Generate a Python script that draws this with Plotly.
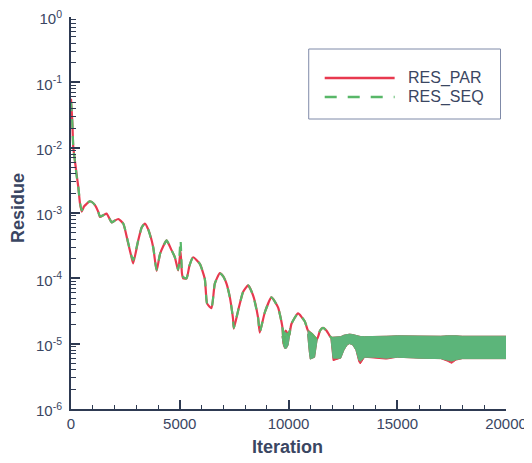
import plotly.graph_objects as go

# ---------------- data ----------------
iters = [0, 60, 106, 180, 262, 335, 413, 491, 600, 721, 850, 950, 1102, 1250, 1332,
         1500, 1639, 1869, 2000, 2172, 2402, 2631, 2800, 2861, 3090, 3250, 3398, 3550,
         3779, 3935, 4100, 4395, 4600, 4776, 4927, 5037, 5100, 5157, 5313, 5450, 5616,
         5923, 6153, 6259, 6461, 6612, 6842, 7000, 7150, 7300, 7379, 7450, 7485, 7683,
         7912, 8142, 8371, 8601, 8679, 8909, 9216, 9519, 9721, 9781, 9873, 10024, 10134,
         10440, 10745, 10898, 11100, 11310, 11450, 11587, 11750, 11893, 12000]

res_par = [5.6e-2, 2.5e-2, 1.0e-2, 6.3e-3, 3.8e-3, 2.5e-3, 1.4e-3, 1.05e-3, 1.26e-3, 1.38e-3,
           1.51e-3, 1.48e-3, 1.32e-3, 1.05e-3, 8.7e-4, 9.3e-4, 9.8e-4, 7.2e-4, 7.6e-4, 8.1e-4,
           6.9e-4, 3.4e-4, 2.0e-4, 1.7e-4, 3.8e-4, 6.0e-4, 6.9e-4, 5.6e-4, 3.0e-4, 1.3e-4,
           2.4e-4, 3.8e-4, 2.8e-4, 2.1e-4, 1.32e-4, 2.6e-4, 1.2e-4, 1.0e-4, 1.0e-4, 1.58e-4,
           2.1e-4, 1.66e-4, 9.8e-5, 4.1e-5, 3.5e-5, 8.3e-5, 1.2e-4, 1.07e-4, 8.3e-5, 5.2e-5,
           3.6e-5, 2.4e-5, 1.7e-5, 3.2e-5, 6.2e-5, 7.8e-5, 5.5e-5, 2.5e-5, 1.48e-5, 3.0e-5,
           5.1e-5, 3.6e-5, 1.78e-5, 9.3e-6, 1.58e-5, 1.32e-5, 2.0e-5, 2.9e-5, 2.2e-5, 1.58e-5,
           1.38e-5, 1.17e-5, 1.58e-5, 1.74e-5, 1.58e-5, 1.32e-5, 1.2e-5]

res_seq = [5.0e-2, 2.4e-2, 1.0e-2, 6.3e-3, 3.6e-3, 2.5e-3, 1.45e-3, 1.1e-3, 1.26e-3, 1.38e-3,
           1.51e-3, 1.48e-3, 1.32e-3, 1.05e-3, 8.9e-4, 9.3e-4, 9.8e-4, 7.2e-4, 7.6e-4, 8.1e-4,
           6.9e-4, 3.5e-4, 2.1e-4, 1.9e-4, 3.8e-4, 6.0e-4, 6.9e-4, 5.6e-4, 3.0e-4, 1.35e-4,
           2.4e-4, 3.8e-4, 2.8e-4, 2.1e-4, 1.35e-4, 3.8e-4, 1.3e-4, 1.05e-4, 1.0e-4, 1.58e-4,
           2.1e-4, 1.66e-4, 9.8e-5, 4.1e-5, 3.6e-5, 8.3e-5, 1.2e-4, 1.07e-4, 8.3e-5, 5.2e-5,
           3.6e-5, 2.4e-5, 1.75e-5, 3.2e-5, 6.2e-5, 7.8e-5, 5.5e-5, 2.5e-5, 1.5e-5, 3.0e-5,
           5.1e-5, 3.6e-5, 1.78e-5, 9.6e-6, 1.58e-5, 1.32e-5, 2.0e-5, 2.9e-5, 2.2e-5, 1.58e-5,
           1.38e-5, 1.17e-5, 1.58e-5, 1.74e-5, 1.58e-5, 1.32e-5, 1.2e-5]

# oscillating (dense) regions: upper / lower envelopes
band1_iters = [9700, 9760, 9820, 9900, 9980, 10060]
band1_upper = [1.8e-5, 1.6e-5, 1.5e-5, 1.45e-5, 1.4e-5, 1.7e-5]
band1_lower = [1.3e-5, 1.0e-5, 8.5e-6, 8.5e-6, 9.5e-6, 1.4e-5]

band2_iters = [10880, 10950, 11000, 11100, 11200, 11280, 11320]
band2_upper = [1.6e-5, 1.5e-5, 1.48e-5, 1.38e-5, 1.3e-5, 1.2e-5, 1.17e-5]
band2_lower = [1.4e-5, 7.8e-6, 5.8e-6, 6.0e-6, 6.2e-6, 8.7e-6, 1.17e-5]

band3_iters = [11950, 12050, 12400, 12550, 12700, 12810, 12950, 13100, 13230, 13300, 13500,
               14000, 14500, 15000, 16000, 17000, 17300, 17500, 17700, 18000, 19000, 20000]
band3_upper = [1.25e-5, 1.26e-5, 1.28e-5, 1.35e-5, 1.4e-5, 1.4e-5, 1.38e-5, 1.33e-5, 1.3e-5,
               1.29e-5, 1.28e-5, 1.28e-5, 1.3e-5, 1.32e-5, 1.3e-5, 1.3e-5, 1.32e-5, 1.33e-5,
               1.32e-5, 1.3e-5, 1.3e-5, 1.3e-5]
band3_lower_seq = [1.2e-5, 6.0e-6, 6.0e-6, 8.0e-6, 9.6e-6, 1.0e-5, 9.6e-6, 8.0e-6, 5.6e-6,
                   5.4e-6, 6.2e-6, 6.2e-6, 6.0e-6, 6.2e-6, 6.0e-6, 5.9e-6, 5.6e-6, 5.4e-6,
                   5.7e-6, 5.9e-6, 5.9e-6, 5.9e-6]
band3_lower_par = [1.2e-5, 5.5e-6, 6.0e-6, 8.0e-6, 9.6e-6, 1.0e-5, 9.6e-6, 8.0e-6, 5.3e-6,
                   4.9e-6, 6.2e-6, 6.0e-6, 5.8e-6, 6.2e-6, 6.0e-6, 5.9e-6, 5.4e-6, 5.0e-6,
                   5.6e-6, 5.9e-6, 5.9e-6, 5.9e-6]

x_tickvals = [0, 5000, 10000, 15000, 20000]
x_ticktext = ["0", "5000", "10000", "15000", "20000"]
y_tickvals = [1e0, 1e-1, 1e-2, 1e-3, 1e-4, 1e-5, 1e-6]
y_ticktext = ["10<sup>0</sup>", "10<sup>-1</sup>", "10<sup>-2</sup>", "10<sup>-3</sup>",
              "10<sup>-4</sup>", "10<sup>-5</sup>", "10<sup>-6</sup>"]
series_names = ["RES_PAR", "RES_SEQ"]

# ---------------- styling ----------------
RED = "#e8394f"
GREEN = "#58b768"
FILL_GREEN = "#5cb57a"
AXIS = "#2e3a52"
TEXT = "#3a4662"
FONT = "Liberation Sans, Arial, sans-serif"


def polygon(xs, upper, lower):
    return xs + xs[::-1], upper + lower[::-1]


fig = go.Figure()

# RES_PAR (solid red)
fig.add_trace(go.Scatter(x=iters, y=res_par, mode="lines", name=series_names[0],
                         line=dict(color=RED, width=2.2, shape="spline", smoothing=0.5),
                         showlegend=False))
for xs, up, lo in [(band1_iters, band1_upper, band1_lower),
                   (band2_iters, band2_upper, band2_lower),
                   (band3_iters, band3_upper, band3_lower_par)]:
    px, py = polygon(xs, up, lo)
    fig.add_trace(go.Scatter(x=px, y=py, mode="lines", fill="toself", fillcolor=RED,
                             line=dict(color=RED, width=1), showlegend=False,
                             hoverinfo="skip"))

# RES_SEQ (dashed green)
for xs, up, lo in [(band1_iters, band1_upper, band1_lower),
                   (band2_iters, band2_upper, band2_lower),
                   (band3_iters, band3_upper, band3_lower_seq)]:
    px, py = polygon(xs, up, lo)
    fig.add_trace(go.Scatter(x=px, y=py, mode="lines", fill="toself", fillcolor=FILL_GREEN,
                             line=dict(color=FILL_GREEN, width=1), showlegend=False,
                             hoverinfo="skip"))
fig.add_trace(go.Scatter(x=iters, y=res_seq, mode="lines", name=series_names[1],
                         line=dict(color=GREEN, width=2.2, dash="9px,8px",
                                   shape="spline", smoothing=0.5),
                         showlegend=False))

# ---------------- axes ----------------
minor_y = [k * 10.0 ** e for e in range(-6, 0) for k in range(2, 10)]

fig.update_xaxes(range=[0, 20000], tickvals=x_tickvals, ticktext=x_ticktext,
                 ticks="inside", ticklen=9,
                 tickwidth=2, tickcolor=AXIS, showline=True, linecolor=AXIS, linewidth=2,
                 showgrid=False, zeroline=False, automargin=False,
                 ticklabeloverflow="allow",
                 tickfont=dict(family=FONT, size=15, color=TEXT),
                 minor=dict(dtick=1000, ticks="inside", ticklen=4, tickcolor=AXIS,
                            tickwidth=1, showgrid=False))
fig.update_yaxes(type="log", range=[-6, 0], tickvals=y_tickvals, ticktext=y_ticktext,
                 ticks="inside", ticklen=9, tickwidth=2, tickcolor=AXIS, showline=True,
                 linecolor=AXIS, linewidth=2, showgrid=False, zeroline=False,
                 ticklabelstandoff=4, ticklabelshift=2, automargin=False,
                 ticklabeloverflow="allow",
                 tickfont=dict(family=FONT, size=15, color=TEXT),
                 minor=dict(tickvals=minor_y, ticks="inside", ticklen=5, tickcolor=AXIS,
                            tickwidth=1, showgrid=False))

# ---------------- legend box (drawn) ----------------
# page pixel -> paper coordinates (plot area spans x 71..506, y 17..409 on the page)
def xp(px):
    return (px - 71) / 435.5


def yp(py):
    return (409 - py) / 392.0


shapes = [
    dict(type="rect", xref="paper", yref="paper", x0=xp(309), x1=xp(501), y0=yp(119),
         y1=yp(49), line=dict(color="#7f8aa8", width=1), fillcolor="rgba(0,0,0,0)"),
    dict(type="line", xref="paper", yref="paper", x0=xp(325), x1=xp(395), y0=yp(78),
         y1=yp(78), line=dict(color=RED, width=2.5)),
    dict(type="line", xref="paper", yref="paper", x0=xp(325), x1=xp(395), y0=yp(97),
         y1=yp(97), line=dict(color=GREEN, width=2.5, dash="12px,11px")),
]
annotations = [
    dict(text=series_names[0], xref="paper", yref="paper", x=xp(406), y=yp(78),
         xanchor="left", yanchor="middle", showarrow=False,
         font=dict(family=FONT, size=16, color=TEXT)),
    dict(text=series_names[1], xref="paper", yref="paper", x=xp(406), y=yp(97),
         xanchor="left", yanchor="middle", showarrow=False,
         font=dict(family=FONT, size=16, color=TEXT)),
    dict(text="<b>Iteration</b>", xref="paper", yref="paper", x=xp(288), y=yp(447),
         xanchor="center", yanchor="middle", showarrow=False,
         font=dict(family=FONT, size=18, color=TEXT)),
    dict(text="<b>Residue</b>", xref="paper", yref="paper", x=xp(18), y=yp(208),
         xanchor="center", yanchor="middle", showarrow=False, textangle=-90,
         font=dict(family=FONT, size=18, color=TEXT)),
]

# the page body has an 8px margin, so the figure is 8px smaller and margins compensate
fig.update_layout(width=524, height=455, margin=dict(l=63, r=26, t=9, b=54),
                  paper_bgcolor="white", plot_bgcolor="white", showlegend=False,
                  shapes=shapes, annotations=annotations)

fig.write_html("out.html")
